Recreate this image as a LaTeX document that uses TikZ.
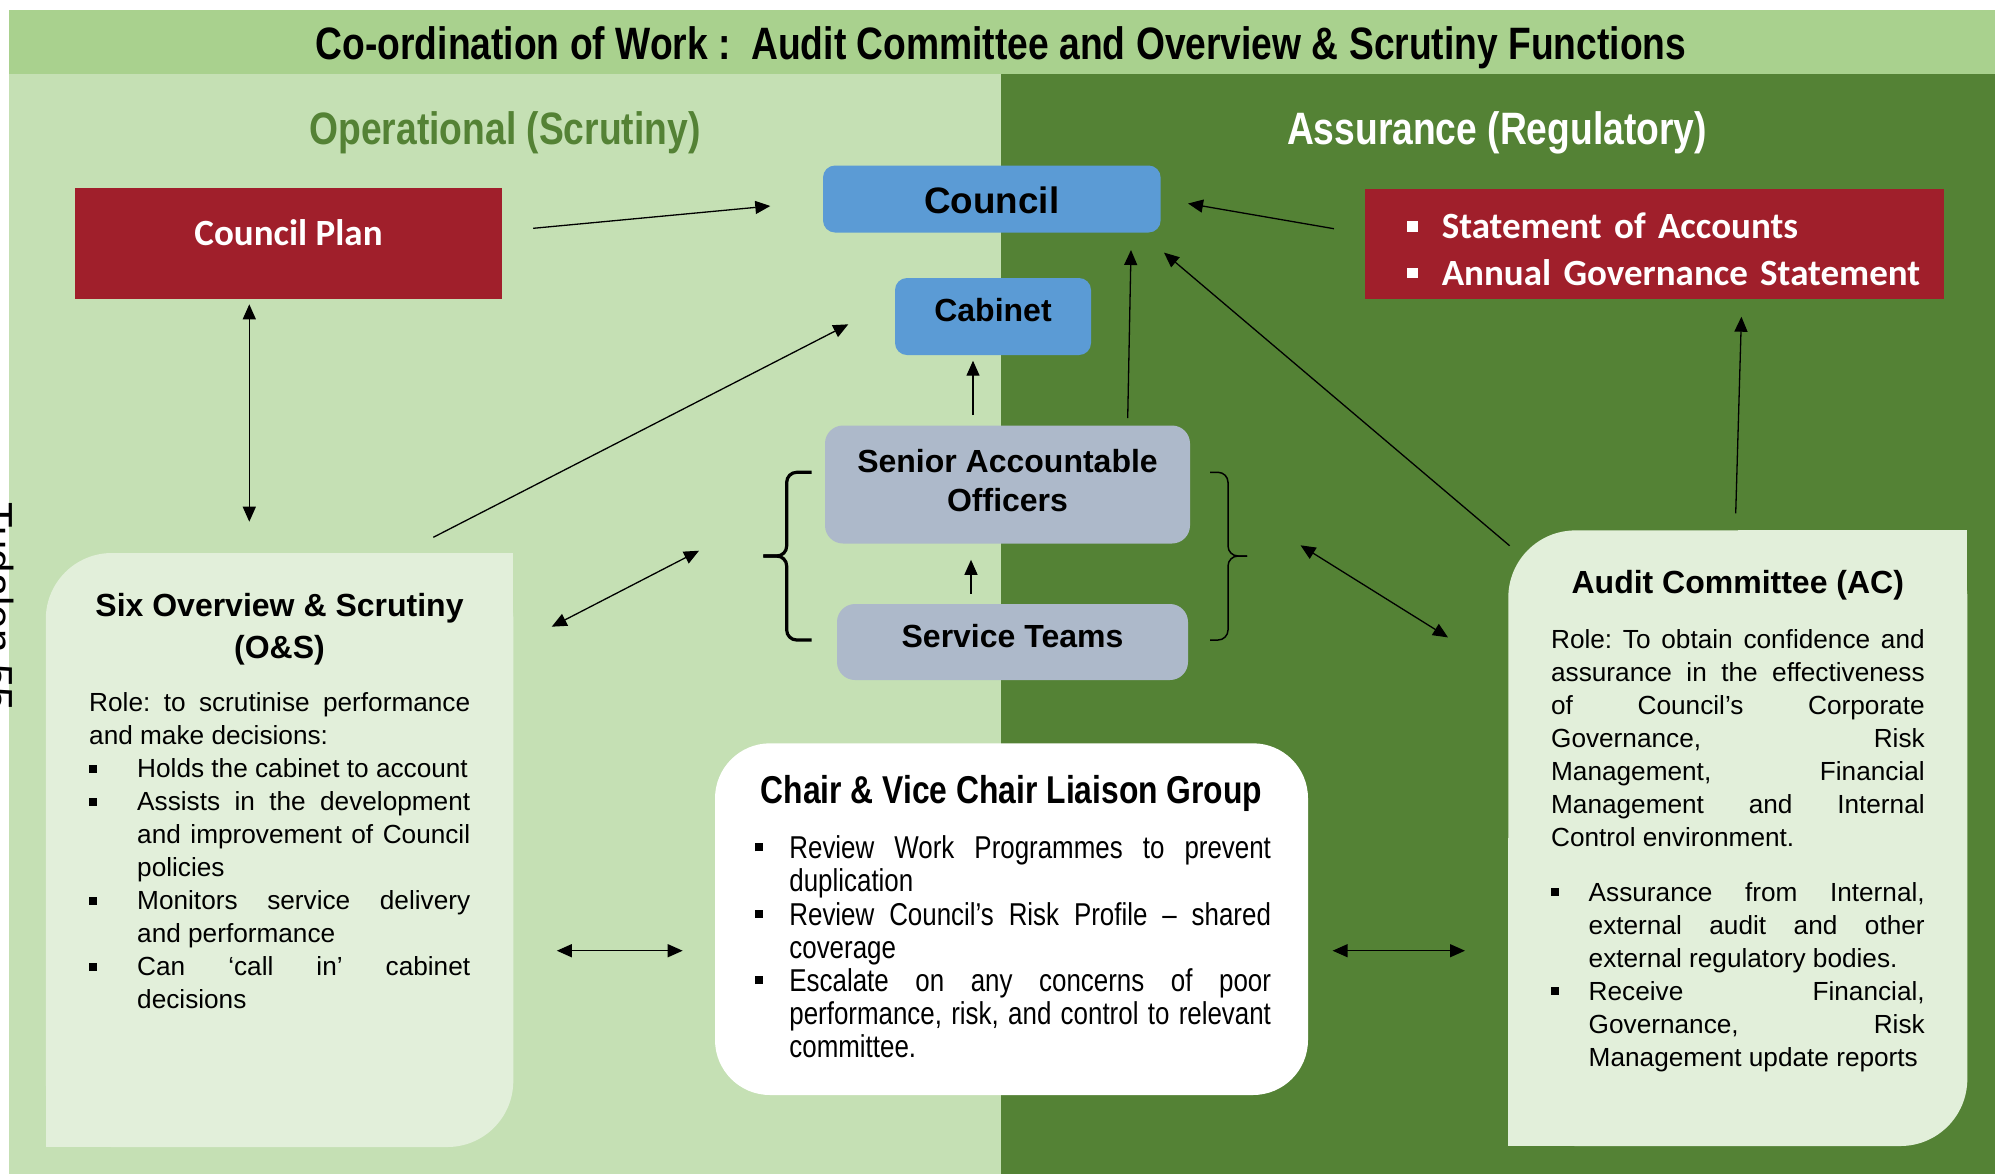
\documentclass[tikz,border=0pt]{standalone}
\usepackage{fontspec}
\setmainfont{Liberation Sans}
\newfontfamily\narrowfont[FakeStretch=0.82]{Liberation Sans}
\newfontfamily\calfont{Carlito}
\usetikzlibrary{arrows.meta,positioning}
\definecolor{lightgrn}{HTML}{C5E0B4}
\definecolor{darkgrn}{HTML}{548235}
\definecolor{bandgrn}{HTML}{A9D18E}
\definecolor{panelgrn}{HTML}{E2EFDA}
\definecolor{planred}{HTML}{A01F2B}
\definecolor{cblue}{HTML}{5B9BD5}
\definecolor{officer}{HTML}{ADB9CA}
\setlength{\parindent}{0pt}
\frenchspacing
\hbadness=10000
\newcommand{\sqbul}{\rule[\dimexpr0.358em-2pt\relax]{4pt}{4pt}}
\newcommand{\wbul}{\hspace*{21.2pt}\makebox[17.2pt][l]{\textcolor{white}{\rule[3.4pt]{5.2pt}{5.2pt}}}}
\newcommand{\bitem}[2]{\par\hangindent=#1\hangafter=1\noindent\makebox[#1][l]{\sqbul}\ignorespaces#2\par}
\tikzset{
    arr/.style={-{Triangle[length=7.5pt,width=6.5pt]},line width=0.65pt},
    dbl/.style={{Triangle[length=7.5pt,width=6.5pt]}-{Triangle[length=7.5pt,width=6.5pt]},line width=0.65pt},
    brace/.style={rounded corners=5pt},
    redbox/.style={fill=planred,text=white,inner sep=0pt,font=\calfont\bfseries\fontsize{18.5}{23.3}\selectfont},
    bluebox/.style={fill=cblue,rounded corners=6pt,inner sep=0pt,font=\bfseries\fontsize{16}{19.5}\selectfont},
    officerbox/.style={fill=officer,rounded corners=9pt,inner sep=0pt,font=\bfseries\fontsize{16}{19.5}\selectfont},
    panel/.style={fill=panelgrn},
    heading/.style={font=\narrowfont\bfseries\fontsize{22.7}{27}\selectfont,anchor=base},
    boxtitle/.style={font=\bfseries\fontsize{16}{21}\selectfont,align=center,inner sep=0pt,anchor=north},
    bodytext/.style={font=\fontsize{13.1}{16.5}\selectfont,align=justify,inner sep=0pt,anchor=north west}
}
\begin{document}
\begin{tikzpicture}[x=0.5pt,y=-0.5pt]
\useasboundingbox (0,0) rectangle (1995,1174);
\fill[bandgrn] (9,10) rectangle (1995,74);
\fill[lightgrn] (9,74) rectangle (1001,1174);
\fill[darkgrn] (1001,74) rectangle (1995,1174);
\node[font=\fontsize{21}{21}\selectfont,rotate=-90,anchor=base west,inner sep=0pt] (page) at (-17,502) {Tudalen 55};

\node[heading] (title) at (1001,59) {Co-ordination of Work :\ \ Audit Committee and Overview \& Scrutiny Functions};
\node[heading,text=darkgrn] (ops) at (505,144.5) {Operational (Scrutiny)};
\node[heading,text=white] (assur) at (1497,144.5) {Assurance (Regulatory)};

\node[redbox,minimum width=213.5pt,text height=28.5pt,text depth=27pt] (plan) at (288.5,243.5) {Council Plan};
\node[redbox,minimum height=55pt,text width=289.6pt,align=left] (stmt) at (1654.6,244.3) {\rule{0pt}{17.7pt}\wbul Statement of Accounts\\\wbul Annual Governance Statement};

\node[bluebox,font=\bfseries\fontsize{18.4}{22}\selectfont,minimum width=168.8pt,text height=23.75pt,text depth=9.75pt] (council) at (991.8,199) {Council};
\node[bluebox,minimum width=98pt,text height=21.75pt,text depth=16.75pt] (cabinet) at (993,316.5) {Cabinet};
\node[officerbox,align=center,minimum width=182.5pt,minimum height=59pt,text depth=4pt] (sao) at (1007.5,484.5) {Senior Accountable\\Officers};
\node[officerbox,minimum width=175.5pt,text height=21.5pt,text depth=16.5pt] (teams) at (1012.5,642) {Service Teams};

% O&S panel
\fill[panel,rounded corners=33pt] (45.8,553) rectangle (513.3,1147);
\fill[panel] (280,553) rectangle (513.3,850);
\fill[panel] (45.8,850) rectangle (280,1147);
\node[boxtitle] (osTitle) at (279.5,592.6) {Six Overview \& Scrutiny\\(O\&S)};
\node[bodytext,text width=190.5pt] (osText) at (88.8,692.5) {Role: to scrutinise performance\linebreak and make decisions:
\bitem{24pt}{Holds the cabinet to account}
\bitem{24pt}{Assists in the development\linebreak and improvement of Council\linebreak policies}
\bitem{24pt}{Monitors service delivery\linebreak and performance}
\bitem{24pt}{Can ‘call in’ cabinet\linebreak decisions}};

% AC panel
\fill[panel,rounded corners=33.5pt] (1508.3,530.4) rectangle (1967.3,1146);
\fill[panel] (1737.8,530.4) rectangle (1967.3,838.2);
\fill[panel] (1508.3,838.2) rectangle (1737.8,1146);
\node[boxtitle] (acTitle) at (1737.8,569.6) {Audit Committee (AC)};
\node[bodytext,text width=186.8pt] (acText) at (1550.7,629.5) {Role: To obtain confidence and\linebreak assurance in the effectiveness\linebreak of Council’s Corporate\linebreak Governance, Risk\linebreak Management, Financial\linebreak Management and Internal\linebreak Control environment.\par\vspace{10.6pt}
\bitem{18.8pt}{Assurance from Internal,\linebreak external audit and other\linebreak external regulatory bodies.}
\bitem{18.8pt}{Receive Financial,\linebreak Governance, Risk\linebreak Management update reports}};

% liaison group
\fill[white,rounded corners=27.5pt] (715,743.3) rectangle (1308,1095);
\node[font=\narrowfont\bfseries\fontsize{19.4}{23}\selectfont,inner sep=0pt,anchor=north] (chairTitle) at (1011.5,774.5) {Chair \& Vice Chair Liaison Group};
\node[bodytext,font=\narrowfont\fontsize{15.8}{16.6}\selectfont,text width=258pt] (chairText) at (754.6,825) {\bitem{17.2pt}{Review Work Programmes to prevent\linebreak duplication}
\bitem{17.2pt}{Review Council’s Risk Profile – shared\linebreak coverage}
\bitem{17.2pt}{Escalate on any concerns of poor\linebreak performance, risk, and control to relevant\linebreak committee.}};

% braces
\draw[brace,line width=1.6pt] (811.7,472.3) -| (786.7,556) -- (763.3,556);
\draw[brace,line width=1.6pt] (763.3,556) -- (786.7,556) |- (811.7,640);
\draw[brace,line width=0.75pt] (1210,472.3) -| (1228,556) -- (1247,556);
\draw[brace,line width=0.75pt] (1247,556) -- (1228,556) |- (1210,640);

\coordinate (planOut) at (533.2,228.3);
\coordinate (councilW) at (770.3,206);
\coordinate (stmtOut) at (1333.9,228.7);
\coordinate (councilE) at (1188,203.5);
\coordinate (planDown) at (249.3,304.3);
\coordinate (osUp) at (249.3,521.7);
\coordinate (osOut) at (433.3,537.3);
\coordinate (cabinetW) at (848.3,324.3);
\coordinate (osBr) at (551.7,626.7);
\coordinate (braceL) at (699,550.7);
\coordinate (saoUp) at (973,415);
\coordinate (cabinetS) at (973,360.7);
\coordinate (teamsUp) at (971,593.5);
\coordinate (saoS) at (971,559.8);
\coordinate (saoOut) at (1127.7,418);
\coordinate (councilS) at (1131,250);
\coordinate (acOut) at (1509.6,545.7);
\coordinate (councilSE) at (1164,252.6);
\coordinate (braceR) at (1300.5,545.3);
\coordinate (acIn) at (1448,637.4);
\coordinate (acUp) at (1735.7,513.3);
\coordinate (stmtS) at (1741.4,316.7);
\coordinate (osE) at (556.8,950.7);
\coordinate (chairW) at (682.7,950.7);
\coordinate (chairE) at (1332.6,950.7);
\coordinate (acW) at (1465,950.7);

\draw[arr] (planOut) -- (councilW);
\draw[arr] (stmtOut) -- (councilE);
\draw[dbl] (planDown) -- (osUp);
\draw[arr] (osOut) -- (cabinetW);
\draw[dbl] (osBr) -- (braceL);
\draw[arr] (saoUp) -- (cabinetS);
\draw[arr] (teamsUp) -- (saoS);
\draw[arr] (saoOut) -- (councilS);
\draw[arr] (acOut) -- (councilSE);
\draw[dbl] (braceR) -- (acIn);
\draw[arr] (acUp) -- (stmtS);
\draw[dbl] (osE) -- (chairW);
\draw[dbl] (chairE) -- (acW);
\end{tikzpicture}
\end{document}
